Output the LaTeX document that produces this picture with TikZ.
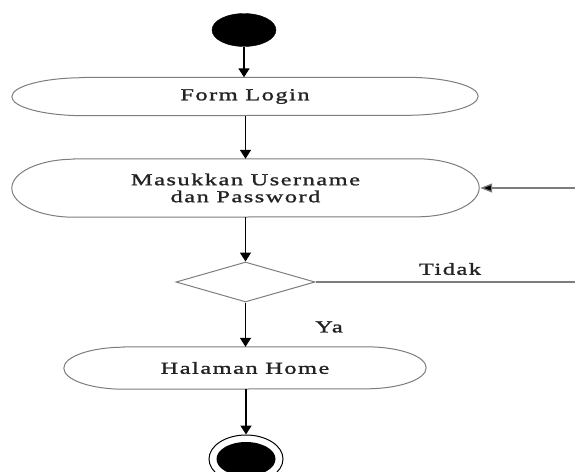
\documentclass[tikz,border=0pt]{standalone}
\usepackage{fontspec}
\setmainfont{Liberation Serif}
\newfontfamily\dfont[FakeStretch=1.45,LetterSpace=9,FakeBold=1.3]{Liberation Serif}
\usetikzlibrary{arrows.meta,shapes.geometric}
\definecolor{outl}{RGB}{125,125,125}
\definecolor{txt}{RGB}{35,35,35}
\tikzset{
  capsule/.style={draw=none, inner sep=0pt, font=\dfont\fontsize{16.8}{16.5}\selectfont, text=txt, align=center},
  outline/.style={draw=outl, line width=1pt},
  flow/.style={draw=black, line width=1.6pt, -{Triangle[width=11pt,length=9pt]}},
  loopline/.style={draw=outl, line width=1.3pt},
  lbl/.style={font=\dfont\fontsize{16.8}{16.5}\selectfont, text=txt, inner sep=0pt},
  decision/.style={diamond, draw=outl, line width=1pt, inner sep=0pt, minimum width=139pt, minimum height=40pt},
  startnode/.style={ellipse, fill=black, draw=black, minimum width=64pt, minimum height=33pt, inner sep=0pt},
}
\newcommand\capsuleoutline[3]{%
  \draw[outline] ([xshift=#2]#1.north west) -- ([xshift=-#2]#1.north east)
    arc[start angle=90,end angle=-90,x radius=#2,y radius=#3]
    -- ([xshift=#2]#1.south west)
    arc[start angle=270,end angle=90,x radius=#2,y radius=#3] -- cycle;}
\begin{document}
\begin{tikzpicture}[x=1pt,y=-1pt]
\useasboundingbox[fill=white] (0,0) rectangle (575,471);
% start
\node[startnode] (start) at (244,30) {};
% Form Login
\node[capsule, minimum width=466pt, minimum height=38pt] (form) at (245,96.5) {Form Login};
\capsuleoutline{form}{72pt}{19pt}
% Masukkan
\node[capsule, minimum width=467pt, minimum height=58pt] (input) at (245.5,188) {Masukkan Username\\[0.5pt]dan Password};
\capsuleoutline{input}{62pt}{29pt}
% decision
\node[decision] (dec) at (245.5,282) {};
% Halaman Home
\node[capsule, minimum width=362pt, minimum height=42pt] (home) at (245,368) {Halaman Home};
\capsuleoutline{home}{60pt}{21pt}
% end
\node[ellipse, draw=black, line width=1pt, fill=white, minimum width=74pt, minimum height=48pt, inner sep=0pt] (endo) at (246,459) {};
\node[ellipse, fill=black, minimum width=59pt, minimum height=34pt, inner sep=0pt] (endi) at (246,459) {};
% labels
\node[lbl] (tidak) at (450,269) {Tidak};
\node[lbl] (ya) at (329,327) {Ya};
% connectors
\draw[flow] (start.south) -- (start.south |- form.north);
\draw[flow] (form.south -| input.north) -- (input.north);
\draw[flow] (input.south) -- (dec.north);
\draw[flow] (dec.south) -- (dec.south |- home.north);
\draw[flow] (home.south -| endo.north) -- (endo.north);
\coordinate (r1) at (590,282);
\coordinate (r2) at (590,188);
\draw[loopline] (dec.east) -- (r1) -- (r2) -- ([xshift=9pt]input.east);
\draw[draw=outl, line width=1.3pt, -{Triangle[width=9pt,length=12pt,fill=black]}] ([xshift=10pt]input.east) -- ([xshift=1pt]input.east);
\end{tikzpicture}
\end{document}
